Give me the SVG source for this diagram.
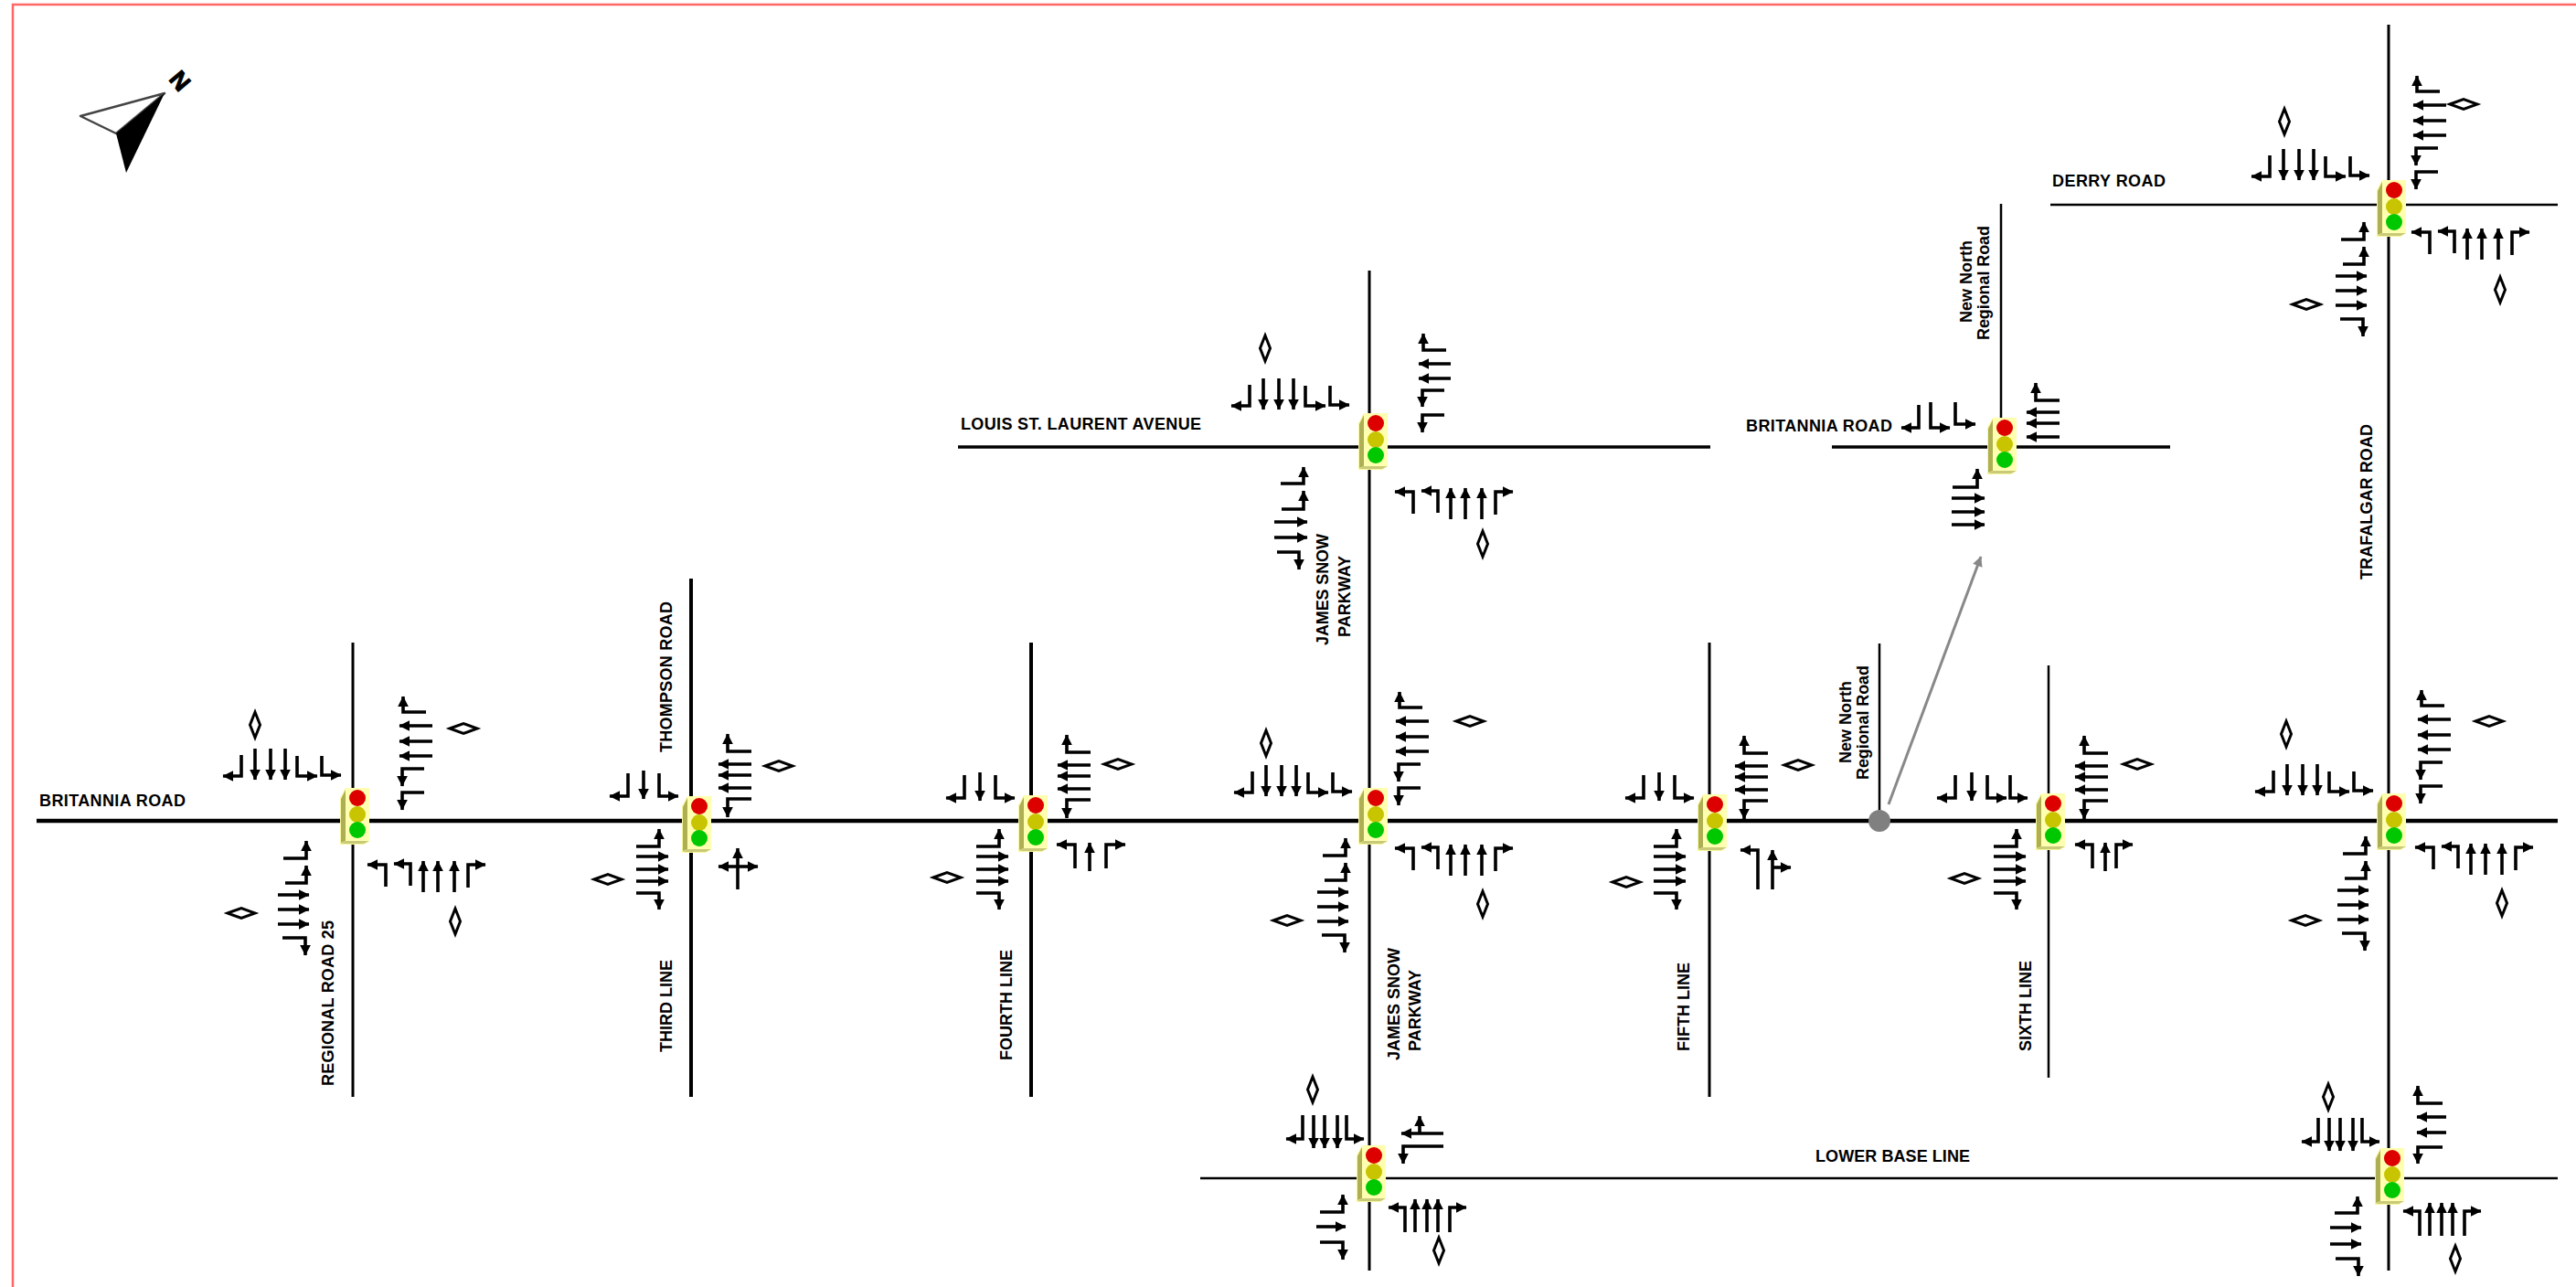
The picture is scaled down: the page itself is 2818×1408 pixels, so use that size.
<svg xmlns="http://www.w3.org/2000/svg" xmlns:xlink="http://www.w3.org/1999/xlink" width="2818" height="1408" viewBox="0 0 2818 1408">
<style>
.a{fill:none;stroke:#000;stroke-width:3.6;marker-end:url(#h)}
.r{fill:none;stroke:#000;stroke-linecap:butt}
.d{fill:#fff;stroke:#000;stroke-width:3}
.t{font-family:"Liberation Sans",Arial,sans-serif;font-weight:700;font-size:18px;fill:#000}
</style>
<defs>
<marker id="h" viewBox="0 0 10 10" refX="9.5" refY="5" markerWidth="12" markerHeight="13" markerUnits="userSpaceOnUse" orient="auto"><path d="M0 0L10 5L0 10z" fill="#000"/></marker>
<marker id="g" viewBox="0 0 10 10" refX="9.5" refY="5" markerWidth="13" markerHeight="11" markerUnits="userSpaceOnUse" orient="auto"><path d="M0 0L10 5L0 10z" fill="#888"/></marker>
<polygon id="dv" class="d" points="0,-14 5.5,0 0,14 -5.5,0"/>
<polygon id="dh" class="d" points="-15,0 0,-5.5 15,0 0,5.5"/>
<g id="light">
<polygon points="-18,-18 -12,-29 14,-29 14,29 8,33 -18,33" fill="#f8f89a"/>
<polygon points="-17,-17 -12,-27 -12,29 -17,31" fill="#aeae55"/>
<polygon points="-17,32 8,32 14,29 -12,29" fill="#c9c97a"/>
<rect x="-12" y="-29" width="26" height="58" fill="#ffffb0"/>
<circle cx="1" cy="-18" r="9" fill="#dd0000"/>
<circle cx="1" cy="0" r="9" fill="#c8c400"/>
<circle cx="1" cy="17" r="9" fill="#00c800"/>
</g>
<g id="nw6">
<path class="a" d="M-122 -72V-49H-142"/><path class="a" d="M-107 -79V-45"/><path class="a" d="M-90 -79V-45"/><path class="a" d="M-74 -79V-45"/><path class="a" d="M-61 -71V-49H-39"/><path class="a" d="M-34 -71V-50H-13"/>
</g>
<g id="ne6">
<path class="a" d="M80 -119H55V-136"/><path class="a" d="M87 -104H51"/><path class="a" d="M87 -87H51"/><path class="a" d="M87 -71H51"/><path class="a" d="M78 -57H54V-38"/><path class="a" d="M78 -31H54V-12"/>
</g>
<g id="sw6">
<path class="a" d="M-76 41H-51V22"/><path class="a" d="M-74 68H-51V49"/><path class="a" d="M-82 81H-48"/><path class="a" d="M-82 97H-48"/><path class="a" d="M-82 113H-48"/><path class="a" d="M-77 128H-52V147"/>
</g>
<g id="se6">
<path class="a" d="M36 72V48H16"/><path class="a" d="M63 71V47H45"/><path class="a" d="M77 78V44"/><path class="a" d="M93 78V44"/><path class="a" d="M111 78V44"/><path class="a" d="M126 73V48H145"/>
</g>
<g id="nw3">
<path class="a" d="M-69 -53V-28H-89"/><path class="a" d="M-52 -56V-25"/><path class="a" d="M-35 -53V-28H-14"/>
</g>
<g id="ne4">
<path class="a" d="M66 -77H40V-96"/><path class="a" d="M66 -63H30"/><path class="a" d="M66 -51H30"/><path class="a" d="M66 -37H30"/><path class="a" d="M66 -25H40V-5"/>
</g>
<g id="sw4">
<path class="a" d="M-60 27H-35V8"/><path class="a" d="M-60 38H-25"/><path class="a" d="M-60 52H-25"/><path class="a" d="M-60 65H-25"/><path class="a" d="M-60 78H-35V96"/>
</g>
<g id="nw5">
<path class="a" d="M-73 -69V-43H-91"/><path class="a" d="M-61 -69V-33"/><path class="a" d="M-49 -69V-33"/><path class="a" d="M-35 -69V-33"/><path class="a" d="M-25 -69V-43H-6"/>
</g>
<g id="se5">
<path class="a" d="M39 59V32H21"/><path class="a" d="M50 59V23"/><path class="a" d="M63 59V23"/><path class="a" d="M75 59V23"/><path class="a" d="M88 59V32H106"/>
</g>
</defs>
<rect width="2818" height="1408" fill="#fff"/>
<path d="M14 1408V5H2818" fill="none" stroke="#f66" stroke-width="2.5"/>
<g id="north-arrow">
<polygon points="88,127 180,102 127,146" fill="#fff" stroke="#444" stroke-width="2.5" stroke-linejoin="round"/>
<polygon points="180,102 127,146 138,189" fill="#000"/>
<text class="t" transform="translate(184,87) rotate(50)" style="font-size:26px;stroke:#000;stroke-width:1.2">N</text>
</g>
<g id="connectors">
<path class="r" stroke-width="4.5" d="M40 898H2798"/>
<path class="r" stroke-width="3" d="M386 703V1200"/>
<path class="r" stroke-width="4" d="M756 633V1200"/>
<path class="r" stroke-width="4" d="M1128 703V1200"/>
<path class="r" stroke-width="3" d="M1498 296V1390"/>
<path class="r" stroke-width="3" d="M1870 703V1200"/>
<path class="r" stroke-width="2.5" d="M2056 704V898"/>
<path class="r" stroke-width="2.5" d="M2241 728V1179"/>
<path class="r" stroke-width="3" d="M2613 27V1390"/>
<path class="r" stroke-width="2.5" d="M2243 224H2798"/>
<path class="r" stroke-width="2.5" d="M1313 1289H2798"/>
<path class="r" stroke-width="3.5" d="M1048 489H1871"/>
<path class="r" stroke-width="3.5" d="M2004 489H2374"/>
<path class="r" stroke-width="2.5" d="M2189 223V489"/>
<path fill="none" stroke="#888" stroke-width="3" marker-end="url(#g)" d="M2066 880L2167 609"/>
<circle cx="2056" cy="898" r="12" fill="#808080"/>
</g>
<g id="int-regional-road-25">
<use href="#light" x="390" y="891"/>
<use href="#nw6" x="386" y="898"/><use href="#ne6" x="386" y="898"/><use href="#sw6" x="386" y="898"/><use href="#se6" x="386" y="898"/>
<use href="#dv" x="279" y="793"/><use href="#dh" x="507" y="797"/><use href="#dh" x="264" y="999"/><use href="#dv" x="498" y="1008"/>
</g>
<g id="int-third-line">
<use href="#light" x="764" y="900"/>
<use href="#nw3" x="756" y="899"/><use href="#ne4" x="756" y="899"/><use href="#sw4" x="756" y="899"/>
<path class="a" d="M807 973V928"/><path class="a" d="M807 948H786"/><path class="a" d="M807 948H829"/>
<use href="#dh" x="852" y="838"/><use href="#dh" x="665" y="962"/>
</g>
<g id="int-fourth-line">
<use href="#light" x="1132" y="899"/>
<use href="#nw3" x="1124" y="901"/><use href="#ne4" x="1127" y="900"/><use href="#sw4" x="1128" y="899"/>
<path class="a" d="M1176 950V924H1156"/><path class="a" d="M1192 953V922"/><path class="a" d="M1210 950V924H1231"/>
<use href="#dh" x="1223" y="836"/><use href="#dh" x="1036" y="960"/>
</g>
<g id="int-james-snow-britannia">
<use href="#light" x="1504" y="891"/>
<use href="#nw6" x="1492" y="916"/><use href="#ne6" x="1476" y="893"/><use href="#sw6" x="1523" y="895"/><use href="#se6" x="1510" y="880"/>
<use href="#dv" x="1385" y="813"/><use href="#dh" x="1608" y="789"/><use href="#dh" x="1408" y="1007"/><use href="#dv" x="1622" y="989"/>
</g>
<g id="int-fifth-line">
<use href="#light" x="1875" y="898"/>
<use href="#nw3" x="1867" y="901"/><use href="#ne4" x="1868" y="901"/><use href="#sw4" x="1869" y="899"/>
<path class="a" d="M1923 973V930H1904"/><path class="a" d="M1939 973V930"/><path class="a" d="M1939 949H1959"/>
<use href="#dh" x="1967" y="837"/><use href="#dh" x="1779" y="965"/>
</g>
<g id="int-sixth-line">
<use href="#light" x="2245" y="897"/>
<path class="a" d="M2139 848V873H2119"/><path class="a" d="M2157 845V876"/><path class="a" d="M2174 848V873H2195"/><path class="a" d="M2199 848V873H2218"/>
<use href="#ne4" x="2240" y="901"/><use href="#sw4" x="2241" y="899"/>
<path class="a" d="M2289 950V924H2270"/><path class="a" d="M2303 953V922"/><path class="a" d="M2315 950V924H2333"/>
<use href="#dh" x="2338" y="836"/><use href="#dh" x="2149" y="961"/>
</g>
<g id="int-trafalgar-britannia">
<use href="#light" x="2618" y="897"/>
<use href="#nw6" x="2609" y="915"/><use href="#ne6" x="2594" y="891"/><use href="#sw6" x="2639" y="893"/><use href="#se6" x="2626" y="879"/>
<use href="#dv" x="2501" y="803"/><use href="#dh" x="2723" y="789"/><use href="#dh" x="2522" y="1007"/><use href="#dv" x="2737" y="988"/>
</g>
<g id="int-trafalgar-derry">
<use href="#light" x="2618" y="226"/>
<use href="#nw6" x="2605" y="242"/><use href="#ne6" x="2589" y="219"/><use href="#sw6" x="2637" y="221"/><use href="#se6" x="2622" y="206"/>
<use href="#dv" x="2499" y="133"/><use href="#dh" x="2695" y="114"/><use href="#dh" x="2523" y="333"/><use href="#dv" x="2735" y="317"/>
</g>
<g id="int-james-snow-lower-base">
<use href="#light" x="1502" y="1282"/>
<use href="#nw5" x="1498" y="1289"/><use href="#se5" x="1498" y="1289"/>
<path class="a" d="M1579 1240H1533"/><path class="a" d="M1553 1240V1221"/><path class="a" d="M1579 1254H1535V1273"/>
<path class="a" d="M1444 1326H1469V1307"/><path class="a" d="M1440 1342H1472"/><path class="a" d="M1444 1359H1469V1378"/>
<use href="#dv" x="1436" y="1192"/><use href="#dv" x="1574" y="1368"/>
</g>
<g id="int-trafalgar-lower-base">
<use href="#light" x="2616" y="1285"/>
<use href="#nw5" x="2609" y="1292"/><use href="#se5" x="2608" y="1293"/>
<path class="a" d="M2672 1207H2645V1188"/><path class="a" d="M2676 1222H2644"/><path class="a" d="M2676 1239H2644"/><path class="a" d="M2672 1255H2645V1273"/>
<path class="a" d="M2554 1327H2579V1309"/><path class="a" d="M2549 1343H2583"/><path class="a" d="M2549 1361H2583"/><path class="a" d="M2555 1377H2580V1396"/>
<use href="#dv" x="2547" y="1200"/><use href="#dv" x="2686" y="1377"/>
</g>
<g id="int-james-snow-louis">
<use href="#light" x="1504" y="481"/>
<use href="#nw6" x="1489" y="493"/><use href="#se6" x="1510" y="490"/>
<path class="a" d="M1582 383H1557V365"/><path class="a" d="M1587 398H1552"/><path class="a" d="M1587 414H1552"/><path class="a" d="M1580 427H1556V445"/><path class="a" d="M1580 454H1556V473"/>
<path class="a" d="M1401 529H1426V511"/><path class="a" d="M1402 557H1426V537"/><path class="a" d="M1394 571H1430"/><path class="a" d="M1394 588H1430"/><path class="a" d="M1397 604H1421V623"/>
<use href="#dv" x="1384" y="381"/><use href="#dv" x="1622" y="595"/>
</g>
<g id="int-new-north-britannia">
<use href="#light" x="2192" y="486"/>
<path class="a" d="M2099 443V468H2080"/><path class="a" d="M2112 440V468H2133"/><path class="a" d="M2139 440V464H2161"/>
<path class="a" d="M2253 438H2227V419"/><path class="a" d="M2253 451H2217"/><path class="a" d="M2253 463H2217"/><path class="a" d="M2253 478H2217"/>
<path class="a" d="M2136 533H2163V513"/><path class="a" d="M2135 545H2171"/><path class="a" d="M2135 560H2171"/><path class="a" d="M2135 574H2171"/>
</g>
<g id="labels">
<text class="t" x="43" y="882" textLength="160">BRITANNIA ROAD</text>
<text class="t" x="1910" y="472" textLength="160">BRITANNIA ROAD</text>
<text class="t" x="1051" y="470" textLength="263">LOUIS ST. LAURENT AVENUE</text>
<text class="t" x="2245" y="204" textLength="124">DERRY ROAD</text>
<text class="t" x="1986" y="1271" textLength="169">LOWER BASE LINE</text>
<text class="t" transform="translate(735,823) rotate(-90)" textLength="165">THOMPSON ROAD</text>
<text class="t" transform="translate(365,1188) rotate(-90)" textLength="181">REGIONAL ROAD 25</text>
<text class="t" transform="translate(735,1151) rotate(-90)">THIRD LINE</text>
<text class="t" transform="translate(1107,1160) rotate(-90)">FOURTH LINE</text>
<text class="t" transform="translate(1848,1150) rotate(-90)">FIFTH LINE</text>
<text class="t" transform="translate(2222,1150) rotate(-90)">SIXTH LINE</text>
<text class="t" transform="translate(1453,706) rotate(-90)" textLength="122">JAMES SNOW</text>
<text class="t" transform="translate(1477,697) rotate(-90)">PARKWAY</text>
<text class="t" transform="translate(1531,1160) rotate(-90)" textLength="123">JAMES SNOW</text>
<text class="t" transform="translate(1554,1150) rotate(-90)">PARKWAY</text>
<text class="t" transform="translate(2595,634) rotate(-90)" textLength="170">TRAFALGAR ROAD</text>
<text class="t" transform="translate(2157,353) rotate(-90)">New North</text>
<text class="t" transform="translate(2176,372) rotate(-90)" textLength="125">Regional Road</text>
<text class="t" transform="translate(2025,835) rotate(-90)">New North</text>
<text class="t" transform="translate(2044,853) rotate(-90)" textLength="125">Regional Road</text>
</g>
</svg>
